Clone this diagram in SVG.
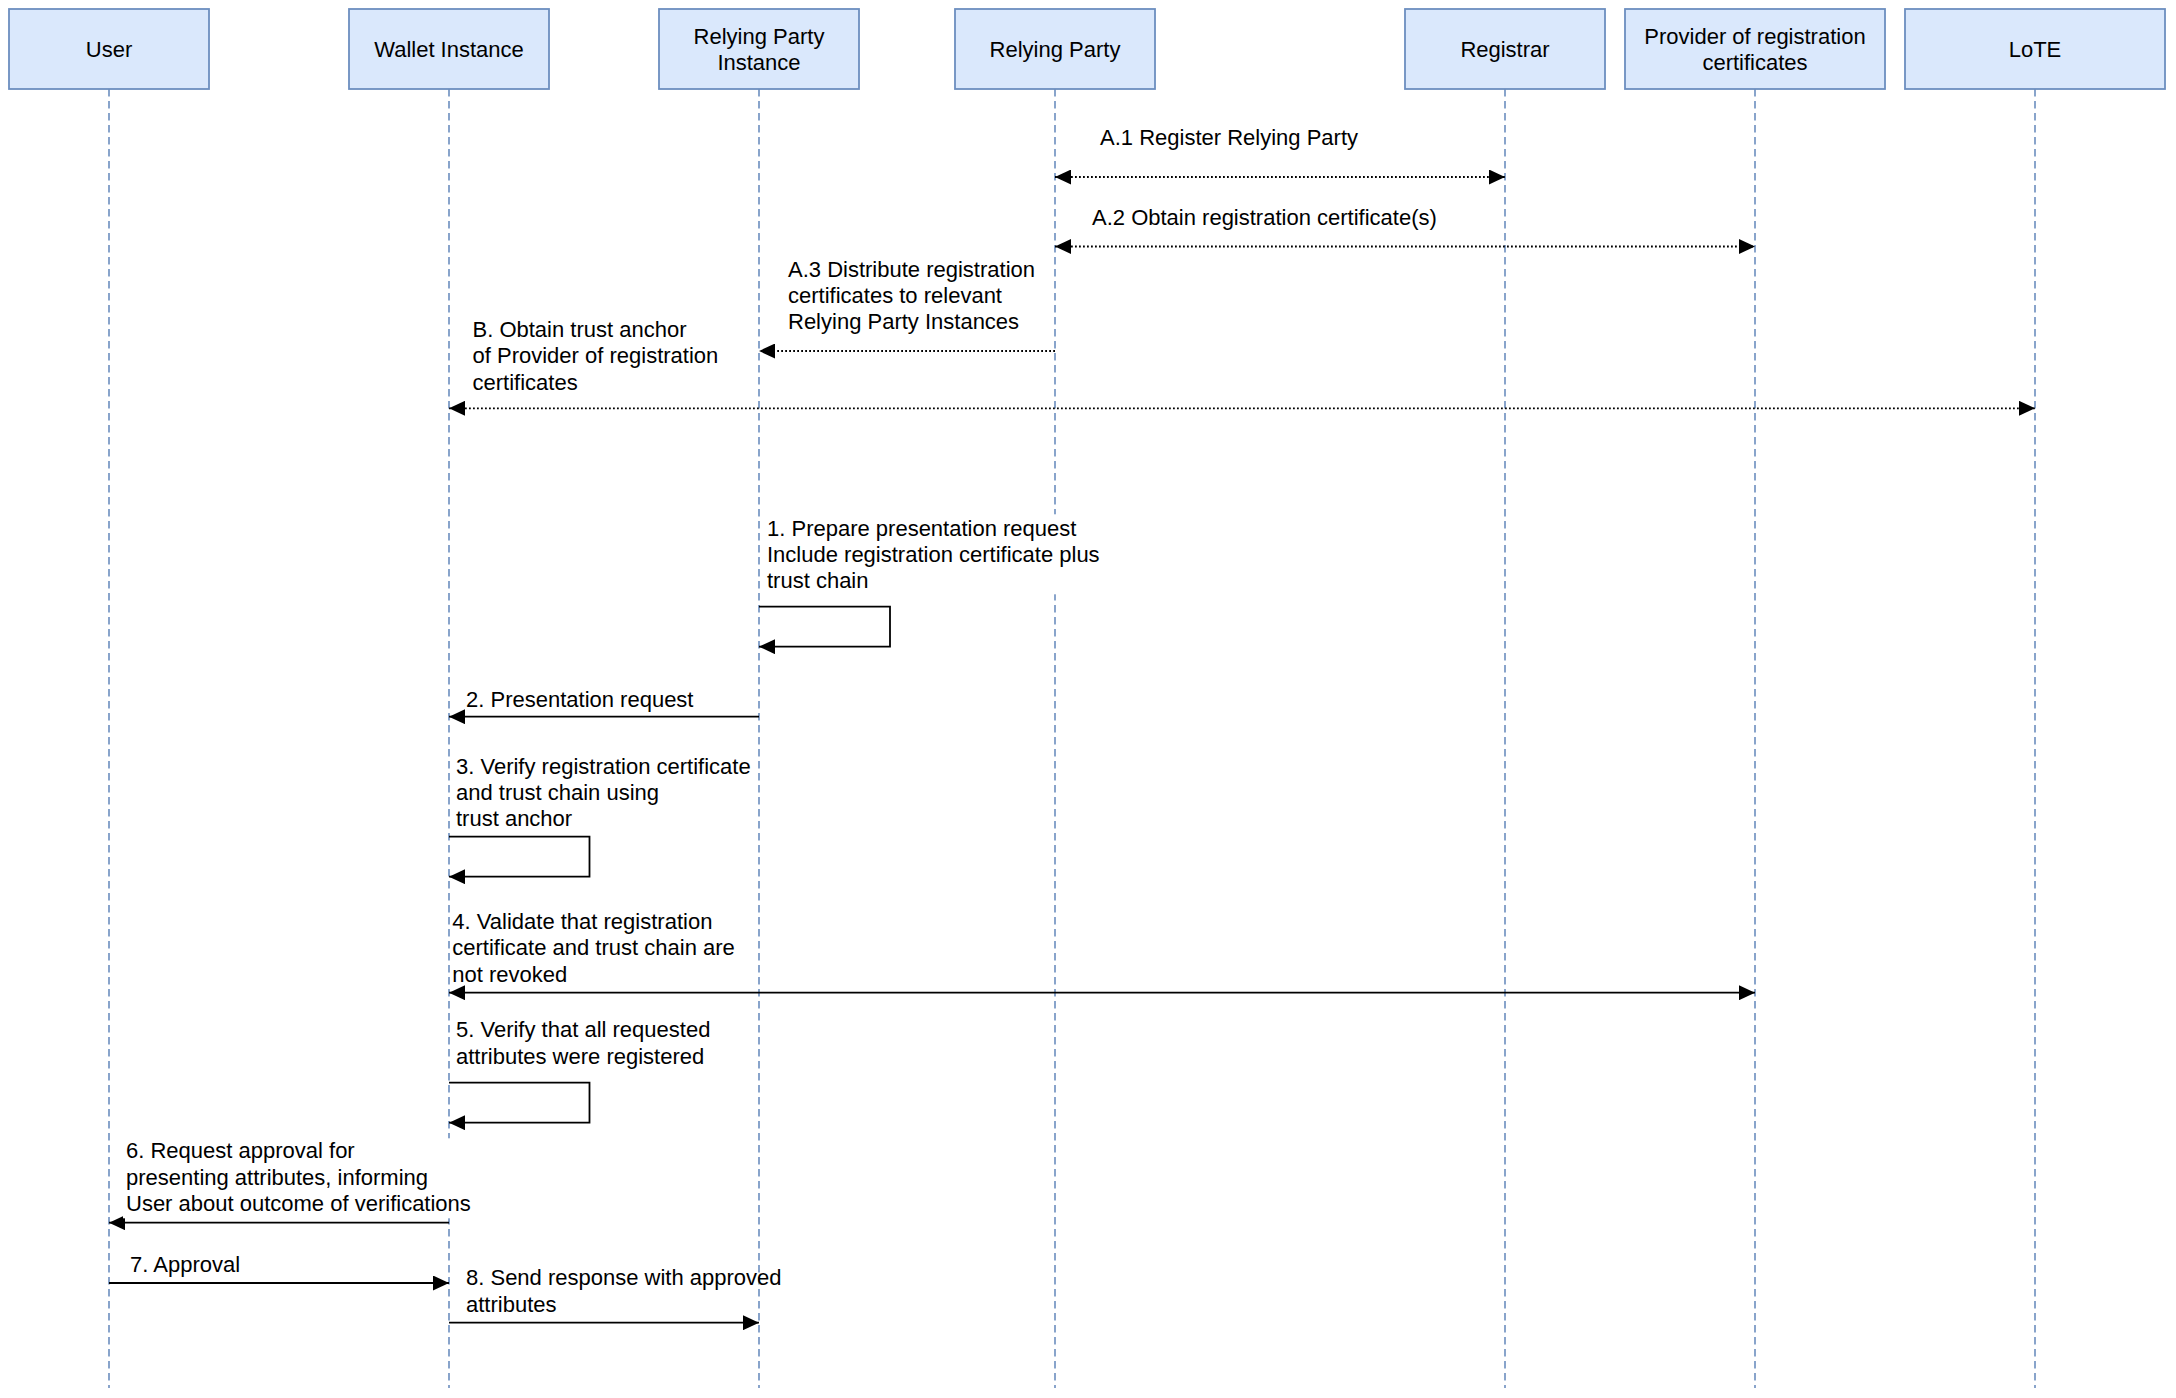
<svg xmlns="http://www.w3.org/2000/svg" width="2176" height="1398" viewBox="0 0 2176 1398">
<defs>
<style>
.box{fill:#dae8fc;stroke:#6c8ebf;stroke-width:1.8}
.life{stroke:#6c8ebf;stroke-width:1.6;stroke-dasharray:7.5 4.5;fill:none}
.t{font-family:"Liberation Sans",Arial,sans-serif;font-size:22px;fill:#000}
.c{text-anchor:middle}
.bg{fill:#fff;stroke:none}
.msg{stroke:#000;stroke-width:1.8;fill:none;marker-end:url(#ah)}
.dot{stroke-dasharray:1.8 2.2}
.both{marker-start:url(#ah)}
</style>
<marker id="ah" markerUnits="userSpaceOnUse" markerWidth="16" markerHeight="15" refX="16" refY="7.5" orient="auto-start-reverse" viewBox="0 0 16 15">
<path d="M0,0 L16,7.5 L0,15 z" fill="#000" stroke="none"/>
</marker>
</defs>
<rect width="2176" height="1398" fill="#fff"/>
<g id="lifelines">
<line class="life" x1="109" y1="89" x2="109" y2="1388"/>
<line class="life" x1="449" y1="89" x2="449" y2="1388"/>
<line class="life" x1="759" y1="89" x2="759" y2="1388"/>
<line class="life" x1="1055" y1="89" x2="1055" y2="1388"/>
<line class="life" x1="1505" y1="89" x2="1505" y2="1388"/>
<line class="life" x1="1755" y1="89" x2="1755" y2="1388"/>
<line class="life" x1="2035" y1="89" x2="2035" y2="1388"/>
</g>
<g id="user"><rect class="box" x="9" y="9" width="200" height="80"/><text class="t c" x="109" y="56.7">User</text></g>
<g id="wallet"><rect class="box" x="349" y="9" width="200" height="80"/><text class="t c" x="449" y="56.7">Wallet Instance</text></g>
<g id="rpi"><rect class="box" x="659" y="9" width="200" height="80"/><text class="t c" x="759" y="43.5">Relying Party</text><text class="t c" x="759" y="69.9">Instance</text></g>
<g id="rp"><rect class="box" x="955" y="9" width="200" height="80"/><text class="t c" x="1055" y="56.7">Relying Party</text></g>
<g id="registrar"><rect class="box" x="1405" y="9" width="200" height="80"/><text class="t c" x="1505" y="56.7">Registrar</text></g>
<g id="provider"><rect class="box" x="1625" y="9" width="260" height="80"/><text class="t c" x="1755" y="43.5">Provider of registration</text><text class="t c" x="1755" y="69.9">certificates</text></g>
<g id="lote"><rect class="box" x="1905" y="9" width="260" height="80"/><text class="t c" x="2035" y="56.7">LoTE</text></g>
<g id="connectors">
<path class="msg dot both" d="M1055,177 H1505"/>
<path class="msg dot both" d="M1055,246.5 H1755"/>
<path class="msg dot" d="M1055,351 H759"/>
<path class="msg dot both" d="M449,408.3 H2035"/>
<path class="msg" d="M759,606.7 H890 V646.7 H759"/>
<path class="msg" d="M759,716.7 H449"/>
<path class="msg" d="M449,836.7 H589.5 V876.7 H449"/>
<path class="msg both" d="M449,992.7 H1755"/>
<path class="msg" d="M449,1082.7 H589.5 V1122.7 H449"/>
<path class="msg" d="M449,1222.7 H109"/>
<path class="msg" d="M109,1283 H449"/>
<path class="msg" d="M449,1322.7 H759"/>
</g>
<g id="labels">
<text class="t" x="1100" y="145">A.1 Register Relying Party</text>
<text class="t" x="1092" y="225">A.2 Obtain registration certificate(s)</text>
<text class="t" x="788" y="276.7">A.3 Distribute registration</text>
<text class="t" x="788" y="302.9">certificates to relevant</text>
<text class="t" x="788" y="329.1">Relying Party Instances</text>
<text class="t" x="472.5" y="336.7">B. Obtain trust anchor</text>
<text class="t" x="472.5" y="363.2">of Provider of registration</text>
<text class="t" x="472.5" y="389.7">certificates</text>
<rect class="bg" x="764" y="514.3" width="338" height="80"/>
<text class="t" x="767" y="535.7">1. Prepare presentation request</text>
<text class="t" x="767" y="562">Include registration certificate plus</text>
<text class="t" x="767" y="588.3">trust chain</text>
<text class="t" x="466" y="706.7">2. Presentation request</text>
<text class="t" x="456" y="773.5">3. Verify registration certificate</text>
<text class="t" x="456" y="799.8">and trust chain using</text>
<text class="t" x="456" y="826">trust anchor</text>
<text class="t" x="452.3" y="929">4. Validate that registration</text>
<text class="t" x="452.3" y="955.3">certificate and trust chain are</text>
<text class="t" x="452.3" y="981.6">not revoked</text>
<text class="t" x="456" y="1037.3">5. Verify that all requested</text>
<text class="t" x="456" y="1063.6">attributes were registered</text>
<rect class="bg" x="123" y="1138.3" width="350" height="80"/>
<text class="t" x="126" y="1158.3">6. Request approval for</text>
<text class="t" x="126" y="1184.8">presenting attributes, informing</text>
<text class="t" x="126" y="1211.3">User about outcome of verifications</text>
<text class="t" x="130" y="1271.7">7. Approval</text>
<text class="t" x="466" y="1285">8. Send response with approved</text>
<text class="t" x="466" y="1311.5">attributes</text>
</g>
</svg>
